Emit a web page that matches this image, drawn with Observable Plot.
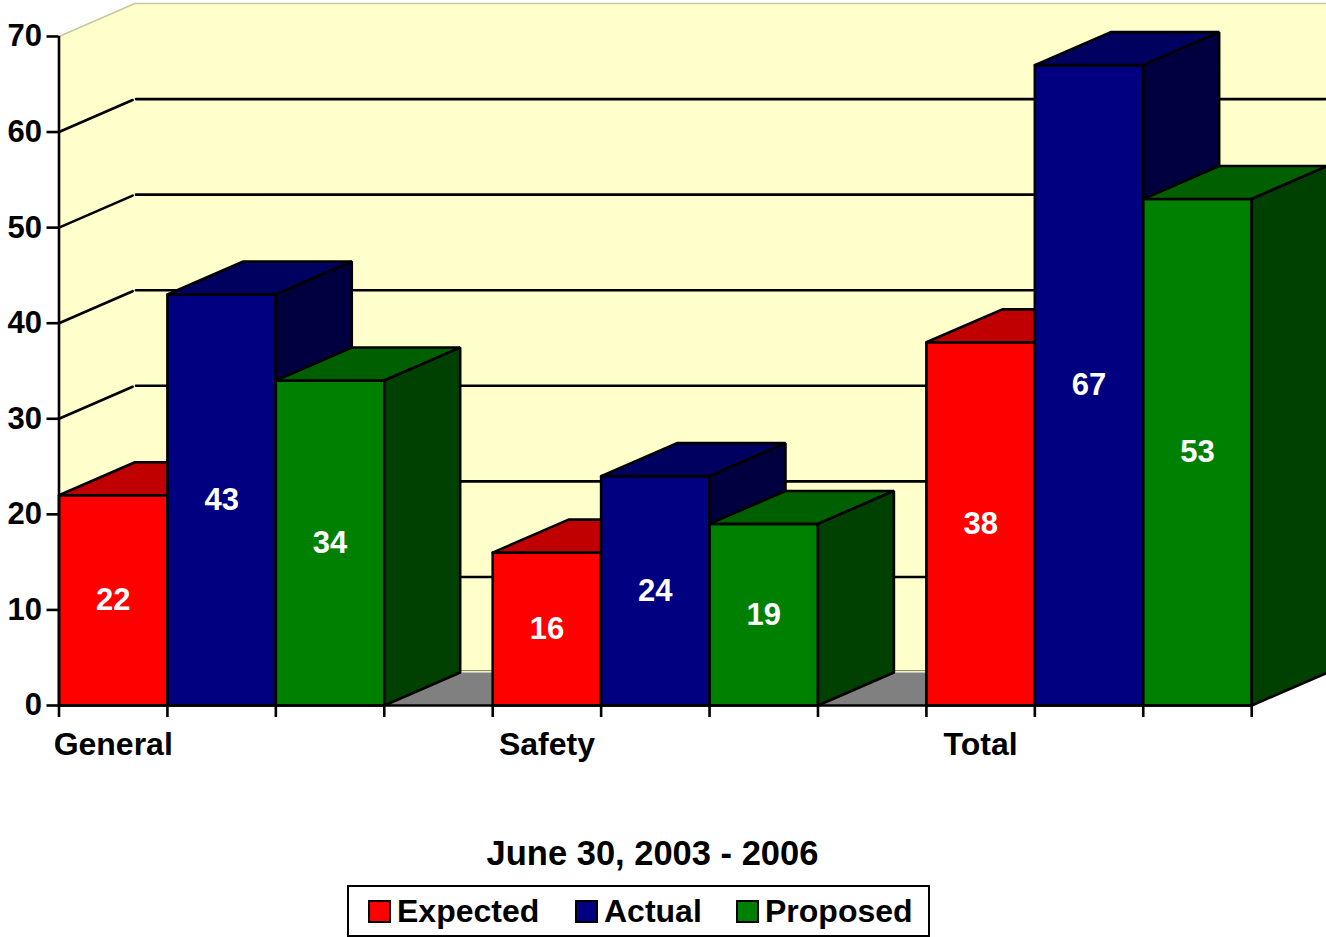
<!DOCTYPE html>
<html>
<head>
<meta charset="utf-8">
<script src="https://cdn.jsdelivr.net/npm/d3@7"></script>
<script src="https://cdn.jsdelivr.net/npm/@observablehq/plot@0.6"></script>
<style>
  html, body { margin: 0; padding: 0; background: #fff; overflow: hidden; }
  body { width: 1326px; height: 937px; position: relative; font-family: "Liberation Sans", Arial, sans-serif; font-weight: bold; color: #000; }
  #chart { position: absolute; left: 0; top: 0; }
  #title { position: absolute; left: 0; width: 1305px; top: 833px; text-align: center; font-size: 34.5px; line-height: 40px; }
  #legend { position: absolute; left: 347px; top: 885px; width: 579px; height: 48px; border: 2px solid #000; }
  #legend span { position: absolute; top: 6px; font-size: 32px; line-height: 36px; white-space: nowrap; }
  #legend i { position: absolute; top: 13px; width: 19px; height: 19px; border: 2px solid #000; box-sizing: content-box; }
</style>
</head>
<body>
<div id="chart"></div>
<div id="title"></div>
<div id="legend"></div>
<script>
const categories = ["General", "Safety", "Total"];
const seriesNames = ["Expected", "Actual", "Proposed"];
const expected = [22, 16, 38];
const actual = [43, 24, 67];
const proposed = [34, 19, 53];
const seriesValues = [expected, actual, proposed];
const frontColors = ["#ff0000", "#000080", "#008000"];
const topColors = ["#c00000", "#000060", "#006000"];
const sideColors = ["#800000", "#000040", "#004000"];
const yTicks = [0, 10, 20, 30, 40, 50, 60, 70];
const xTicks = d3.range(12);
const title = "June 30, 2003 - 2006";
const yMaxAxis = 70;
const depthX = 0.7;   // depth of the 3-D box, in bar widths
const depthY = 3.45;  // depth of the 3-D box, in value units
const xMax = 11.69;
const lineWidth = 2.6;

const pts = (...a) => a.map(([x, y]) => ({x, y}));
const poly = (points, fill, stroke = "#000", strokeWidth = lineWidth) =>
  Plot.line([...points, points[0]], {x: "x", y: "y", fill, stroke, strokeWidth, strokeLinejoin: "miter"});
const seg = (points, stroke = "#000", strokeWidth = lineWidth) =>
  Plot.line(points, {x: "x", y: "y", stroke, strokeWidth});

const grid = yTicks.filter(v => v > 0 && v < yMaxAxis);

const bars = categories.flatMap((c, ci) => seriesNames.map((s, si) => ({
  category: c, series: si, value: seriesValues[si][ci], slot: ci * 4 + si
})));

const barMarks = bars.flatMap(b => {
  const x0 = b.slot, x1 = b.slot + 1, v = b.value;
  return [
    poly(pts([x0, 0], [x1, 0], [x1, v], [x0, v]), frontColors[b.series]),
    poly(pts([x0, v], [x1, v], [x1 + depthX, v + depthY], [x0 + depthX, v + depthY]), topColors[b.series]),
    poly(pts([x1, 0], [x1 + depthX, depthY], [x1 + depthX, v + depthY], [x1, v]), sideColors[b.series])
  ];
});

const plot = Plot.plot({
  width: 1326,
  height: 770,
  marginLeft: 58.5,
  marginRight: 0,
  marginTop: 3,
  marginBottom: 65,
  x: {domain: [0, xMax], axis: null},
  y: {domain: [0, yMaxAxis + depthY], axis: null},
  style: {fontFamily: "'Liberation Sans', Arial, sans-serif", background: "transparent", overflow: "visible"},
  marks: [
    // walls
    poly(pts([0, 0], [depthX, depthY], [xMax + 0.01, depthY], [xMax + 0.01, yMaxAxis + depthY], [depthX, yMaxAxis + depthY], [0, yMaxAxis]), "#ffffcc", "none", 0),
    // floor
    poly(pts([0, 0], [depthX, depthY], [xMax + 0.01, depthY], [11, 0]), "#808080", "none", 0),
    seg(pts([0, yMaxAxis], [depthX, yMaxAxis + depthY], [xMax, yMaxAxis + depthY]), "#c8c8a0", 1.5),
    seg(pts([depthX, depthY + 0.2], [xMax, depthY + 0.2]), "#808060", 1),
    // gridlines
    ...grid.map(v => seg(pts([0, v], [depthX * 0.97, v + depthY * 0.97]))),
    ...grid.map(v => seg(pts([depthX + 0.01, v + depthY], [xMax - 0.01, v + depthY]))),
    // bars
    ...barMarks,
    // value labels
    Plot.text(bars, {
      x: d => d.slot + 0.5, y: d => d.value / 2, text: d => String(d.value),
      fill: "#fff", fontSize: 31, fontWeight: "bold"
    }),
    // axes
    Plot.ruleX([0], {y1: 0, y2: yMaxAxis, stroke: "#000", strokeWidth: lineWidth}),
    Plot.ruleY([0], {x1: 0, x2: 11, stroke: "#000", strokeWidth: lineWidth}),
    Plot.axisY({ticks: yTicks, tickSize: 12, tickPadding: 5, strokeWidth: lineWidth, fontSize: 31, fontWeight: "bold", fill: "#000", label: null, tickFormat: d => String(d)}),
    Plot.axisX({ticks: xTicks, tickSize: 12, strokeWidth: lineWidth, tickFormat: () => "", label: null}),
    Plot.text(categories, {
      x: (d, i) => i * 4 + 0.5, y: () => 0, dy: 39, text: d => d,
      fill: "#000", fontSize: 32, fontWeight: "bold"
    })
  ]
});
document.getElementById("chart").append(plot);

document.getElementById("title").textContent = title;
const legend = document.getElementById("legend");
const swatchLeft = [19, 226, 387];
const labelLeft = [48, 255, 416];
seriesNames.forEach((s, i) => {
  const sw = document.createElement("i");
  sw.style.left = swatchLeft[i] + "px";
  sw.style.background = frontColors[i];
  legend.append(sw);
  const t = document.createElement("span");
  t.style.left = labelLeft[i] + "px";
  t.textContent = s;
  legend.append(t);
});
</script>
</body>
</html>
